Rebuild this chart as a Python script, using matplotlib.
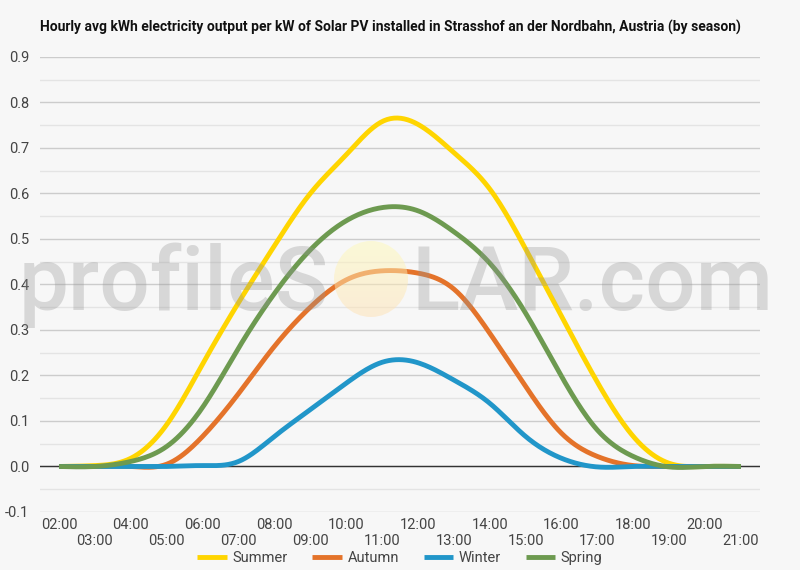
# Hourly avg solar PV output by season - Strasshof an der Nordbahn
import numpy as np
import matplotlib
matplotlib.use("Agg")
import matplotlib.pyplot as plt
from matplotlib.patches import Circle

hours = list(range(2, 22))
hour_labels = ["%02d:00" % h for h in hours]

summer = [0.0, 0.002, 0.018, 0.092, 0.225, 0.36, 0.485, 0.600, 0.685, 0.758,
          0.752, 0.690, 0.610, 0.478, 0.330, 0.185, 0.066, 0.007, 0.0, 0.0]
autumn = [0.0, 0.0, 0.0, 0.005, 0.066, 0.160, 0.264, 0.350, 0.410, 0.430,
          0.425, 0.390, 0.293, 0.176, 0.073, 0.022, 0.002, 0.0, 0.0, 0.0]
winter = [0.0, 0.0, 0.0, 0.0, 0.002, 0.011, 0.066, 0.125, 0.183, 0.229,
          0.228, 0.190, 0.139, 0.066, 0.018, -0.001, 0.0, 0.0, 0.0, 0.0]
spring = [0.0, 0.0, 0.011, 0.044, 0.130, 0.260, 0.380, 0.476, 0.540, 0.569,
          0.562, 0.516, 0.447, 0.337, 0.198, 0.080, 0.022, -0.001, 0.0, 0.0]

series = [("Summer", summer, "#ffd500"),
          ("Autumn", autumn, "#e4732a"),
          ("Winter", winter, "#2196c9"),
          ("Spring", spring, "#6d9a50")]


def spline(x, y, n=400):
    # natural cubic spline through the hourly points
    x = np.asarray(x, float)
    y = np.asarray(y, float)
    m = len(x)
    h = np.diff(x)
    A = np.zeros((m, m))
    b = np.zeros(m)
    A[0, 0] = A[-1, -1] = 1
    for i in range(1, m - 1):
        A[i, i - 1] = h[i - 1]
        A[i, i] = 2 * (h[i - 1] + h[i])
        A[i, i + 1] = h[i]
        b[i] = 6 * ((y[i + 1] - y[i]) / h[i] - (y[i] - y[i - 1]) / h[i - 1])
    M = np.linalg.solve(A, b)
    xs = np.linspace(x[0], x[-1], n)
    idx = np.clip(np.searchsorted(x, xs) - 1, 0, m - 2)
    x0, x1 = x[idx], x[idx + 1]
    hh = x1 - x0
    t0, t1 = x1 - xs, xs - x0
    ys = (M[idx] * t0 ** 3 + M[idx + 1] * t1 ** 3) / (6 * hh) \
        + (y[idx] / hh - M[idx] * hh / 6) * t0 \
        + (y[idx + 1] / hh - M[idx + 1] * hh / 6) * t1
    return xs, ys


plt.rcParams['font.family'] = ['Roboto', 'DejaVu Sans']
bg = "#f7f7f7"
fig = plt.figure(figsize=(8, 5.7), dpi=100, facecolor=bg)
ax = fig.add_axes([0.05, 0.1018, 0.90, 0.7982], facecolor=bg)

for name, vals, col in series:
    xs, ys = spline(hours, vals)
    ax.plot(xs, ys, color=col, lw=3.5, label=name, solid_capstyle="butt", zorder=3)

ax.set_xlim(1.47, 21.53)
ax.set_ylim(-0.1, 0.9)
ax.set_yticks(np.arange(-0.1, 0.91, 0.1))
ax.set_yticklabels(["%.1f" % v for v in np.arange(-0.1, 0.91, 0.1)])
ax.set_yticks(np.arange(-0.05, 0.9, 0.1), minor=True)
ax.set_xticks(hours)
ax.set_xticklabels([lab if i % 2 == 0 else "\n" + lab for i, lab in enumerate(hour_labels)])
ax.grid(axis="y", which="major", color="#cccccc", lw=1)
ax.grid(axis="y", which="minor", color="#e4e4e4", lw=1)
ax.axhline(0, color="#333333", lw=1, zorder=2)
ax.tick_params(which="both", length=0, labelsize=10.5, colors="#444444")
ax.tick_params(axis="y", pad=8)
ax.tick_params(axis="x", pad=4)
for s in ax.spines.values():
    s.set_visible(False)

fig.text(0.05, 0.951, "Hourly avg kWh electricity output per kW of Solar PV installed in Strasshof an der Nordbahn, Austria (by season)",
         fontsize=10, fontweight="bold", color="#111111", ha="left", va="center")

leg = fig.legend(loc="center", bbox_to_anchor=(0.5, 0.021), ncol=4, frameon=False,
                 fontsize=10.5, handlelength=2.0, handletextpad=0.4, columnspacing=1.7)
for t in leg.get_texts():
    t.set_color("#444444")

# watermark
wm = dict(fontsize=64, color="#959595", alpha=0.32, va="baseline", zorder=10,
          family=["Roboto", "DejaVu Sans"], fontweight="medium")
fig.text(329 / 800, 260 / 570, "profileS", ha="right", **wm)
fig.text(411 / 800, 260 / 570, "LAR.com", ha="left", **wm)
sun_ax = fig.add_axes([334 / 800, (570 - 317) / 570, 74 / 800, 76 / 570], zorder=9)
sun_ax.axis("off")
grad = np.linspace(0, 1, 100)[:, None]
cols = np.array([1.0, 0.98, 0.72]) * (1 - grad[..., None]) + np.array([1.0, 0.88, 0.70]) * grad[..., None]
im = sun_ax.imshow(np.repeat(cols, 10, axis=1), extent=[0, 1, 0, 1], origin="upper", alpha=0.5, aspect="auto")
circ = Circle((0.5, 0.5), 0.5, transform=sun_ax.transAxes)
im.set_clip_path(circ)
sun_ax.set_xlim(0, 1)
sun_ax.set_ylim(0, 1)

fig.savefig("out.png", dpi=100, facecolor=bg)
